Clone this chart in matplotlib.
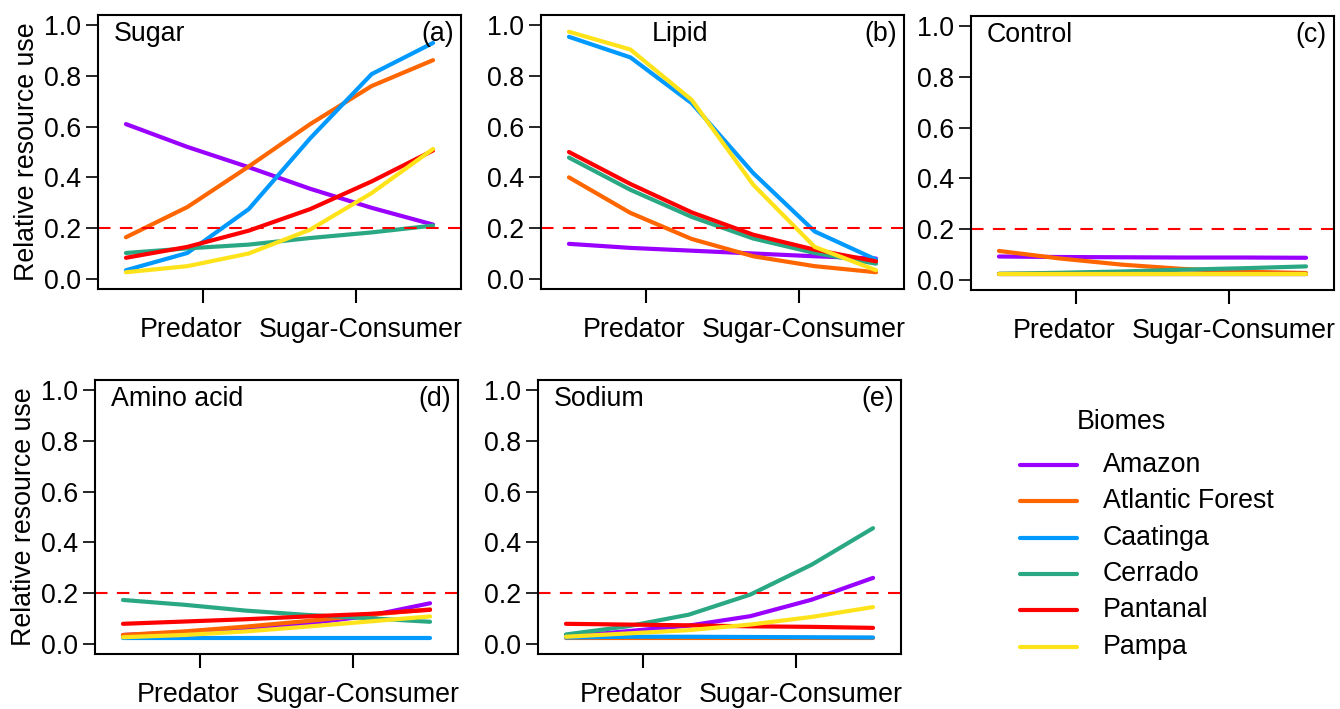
import numpy as np
import matplotlib
matplotlib.use("Agg")
import matplotlib.pyplot as plt
from matplotlib.lines import Line2D

plt.rcParams['font.family'] = ['Liberation Sans', 'DejaVu Sans']

# gradient from predator (0) to sugar-consumer (1)
x = [0.0, 0.2, 0.4, 0.6, 0.8, 1.0]
tick_pos = [0.25, 0.75]
tick_labels = ["Predator", "Sugar-Consumer"]

biomes = ["Amazon", "Atlantic Forest", "Caatinga", "Cerrado", "Pantanal", "Pampa"]
colors = ["#9900FF", "#FF6600", "#0099FF", "#2AA884", "#FF0000", "#FFE31A"]

sugar = {
    "Amazon":          [0.61, 0.52, 0.44, 0.355, 0.28, 0.214],
    "Atlantic Forest": [0.164, 0.283, 0.443, 0.61, 0.76, 0.862],
    "Caatinga":        [0.034, 0.102, 0.275, 0.554, 0.807, 0.93],
    "Cerrado":         [0.102, 0.12, 0.135, 0.161, 0.183, 0.21],
    "Pantanal":        [0.083, 0.126, 0.19, 0.275, 0.384, 0.506],
    "Pampa":           [0.026, 0.05, 0.10, 0.194, 0.338, 0.512],
}
lipid = {
    "Amazon":          [0.138, 0.122, 0.111, 0.10, 0.089, 0.08],
    "Atlantic Forest": [0.40, 0.26, 0.157, 0.089, 0.05, 0.026],
    "Caatinga":        [0.954, 0.873, 0.692, 0.417, 0.187, 0.076],
    "Cerrado":         [0.478, 0.351, 0.244, 0.159, 0.102, 0.06],
    "Pantanal":        [0.50, 0.374, 0.262, 0.174, 0.115, 0.069],
    "Pampa":           [0.974, 0.904, 0.705, 0.371, 0.126, 0.034],
}
control = {
    "Amazon":          [0.092, 0.09, 0.089, 0.088, 0.088, 0.087],
    "Atlantic Forest": [0.114, 0.084, 0.06, 0.043, 0.032, 0.027],
    "Caatinga":        [0.024, 0.024, 0.024, 0.024, 0.024, 0.024],
    "Cerrado":         [0.024, 0.028, 0.033, 0.04, 0.046, 0.053],
    "Pantanal":        [0.024, 0.024, 0.024, 0.024, 0.024, 0.024],
    "Pampa":           [0.024, 0.024, 0.024, 0.024, 0.024, 0.024],
}
amino = {
    "Amazon":          [0.035, 0.045, 0.06, 0.08, 0.11, 0.16],
    "Atlantic Forest": [0.035, 0.049, 0.068, 0.09, 0.114, 0.136],
    "Caatinga":        [0.022, 0.022, 0.022, 0.022, 0.022, 0.022],
    "Cerrado":         [0.173, 0.154, 0.131, 0.114, 0.101, 0.087],
    "Pantanal":        [0.079, 0.088, 0.097, 0.108, 0.118, 0.134],
    "Pampa":           [0.026, 0.035, 0.049, 0.068, 0.088, 0.108],
}
sodium = {
    "Amazon":          [0.028, 0.05, 0.072, 0.109, 0.174, 0.26],
    "Atlantic Forest": [0.022, 0.022, 0.022, 0.022, 0.022, 0.022],
    "Caatinga":        [0.025, 0.028, 0.028, 0.027, 0.026, 0.025],
    "Cerrado":         [0.037, 0.069, 0.115, 0.194, 0.312, 0.456],
    "Pantanal":        [0.079, 0.076, 0.073, 0.069, 0.067, 0.063],
    "Pampa":           [0.028, 0.041, 0.054, 0.076, 0.106, 0.145],
}

panels = [
    (sugar, "Sugar", "(a)", -0.04, True),
    (lipid, "Lipid", "(b)", 0.27, False),
    (control, "Control", "(c)", -0.04, False),
    (amino, "Amino acid", "(d)", -0.04, True),
    (sodium, "Sodium", "(e)", -0.04, False),
]

W, H = 1340, 709
# axes boxes in pixels: left, top, right, bottom
boxes = [
    (98, 15, 461, 289),
    (541, 15, 904, 289),
    (971, 16, 1334, 290),
    (95, 380, 458, 654),
    (538, 380, 901, 654),
]

FS = 19.3

fig = plt.figure(figsize=(W / 100, H / 100), dpi=100)

for (data, name, tag, name_x, ylab), (l, t, r, b) in zip(panels, boxes):
    ax = fig.add_axes([l / W, 1 - b / H, (r - l) / W, (b - t) / H])
    for biome, col in zip(biomes, colors):
        ax.plot(x, data[biome], color=col, lw=3, solid_capstyle='round')
    ax.axhline(0.2, color="#FF0000", lw=1.5, ls=(0, (6, 4.5)))
    ax.set_xlim(-0.091, 1.091)
    ax.set_ylim(-0.04, 1.04)
    ax.set_yticks([0.0, 0.2, 0.4, 0.6, 0.8, 1.0])
    ax.set_yticklabels(["0.0", "0.2", "0.4", "0.6", "0.8", "1.0"])
    ax.set_xticks(tick_pos)
    ax.set_xticklabels([])
    ax.tick_params(axis='y', length=9, width=1.2, pad=3, labelsize=FS)
    ax.tick_params(axis='x', length=10, width=1.5)
    for s in ax.spines.values():
        s.set_linewidth(1.5)
    # category labels sit below the ticks
    ax.text(0.212, -0.20, tick_labels[0], ha='center', va='center', fontsize=FS)
    ax.text(0.765, -0.20, tick_labels[1], ha='center', va='center', fontsize=FS)
    ax.text(name_x, 0.965, name, ha='left', va='center', fontsize=FS)
    ax.text(1.067, 0.965, tag, ha='right', va='center', fontsize=FS)
    if ylab:
        ax.set_ylabel("Relative resource use", fontsize=FS, labelpad=3)

# legend, laid out by hand like the R legend()
fig.text(1121 / W, 1 - 422 / H, "Biomes", ha='center', va='center', fontsize=FS)
for i, (biome, col) in enumerate(zip(biomes, colors)):
    yy = 1 - (465 + i * 36.3) / H
    fig.add_artist(Line2D([1020 / W, 1077 / W], [yy, yy], color=col, lw=3,
                          solid_capstyle='round', transform=fig.transFigure))
    fig.text(1103 / W, yy, biome, ha='left', va='center', fontsize=FS)

fig.savefig("out.png", dpi=100)
